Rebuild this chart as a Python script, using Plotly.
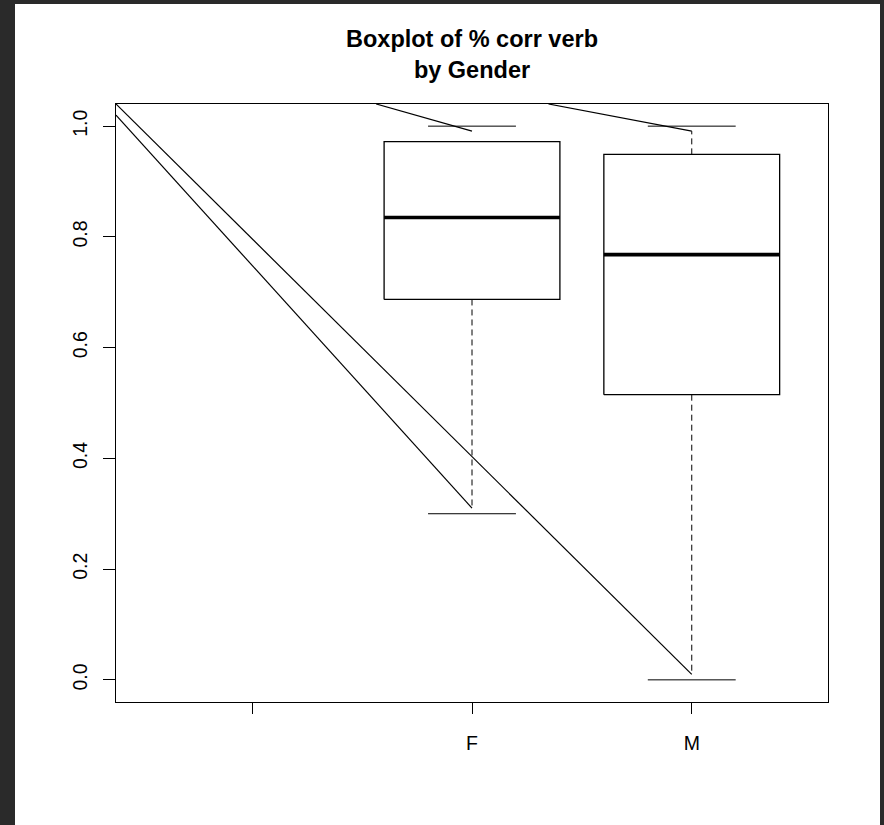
import plotly.graph_objects as go

# ---- data -------------------------------------------------------------
groups = ["", "F", "M"]            # category labels on the x axis
group_pos = [1, 2, 3]              # x positions of the categories
box_pos = [2, 3]                   # groups that have a box (F, M)
q1 = [0.687, 0.515]
median = [0.835, 0.768]
q3 = [0.972, 0.949]
whisk_lo = [0.31, 0.01]
whisk_hi = [0.972, 0.991]
cap_lo = [0.30, 0.00]
cap_hi = [1.00, 1.00]
y_ticks = [0.0, 0.2, 0.4, 0.6, 0.8, 1.0]

# stray segments running in from the empty group
stray_x0 = [0.38, 0.38, 1.564, 2.348]
stray_y0 = [1.04, 1.02, 1.04, 1.04]
stray_x1 = [3, 2, 2, 3]
stray_y1 = [0.01, 0.31, 0.991, 0.991]

# ---- geometry helpers -------------------------------------------------
BOX_HALF = 0.4
CAP_HALF = 0.2

box_x, box_y = [], []
med_x, med_y = [], []
wh_x, wh_y = [], []
cap_x, cap_y = [], []
for p, a, m, b, lo, hi, clo, chi in zip(box_pos, q1, median, q3,
                                         whisk_lo, whisk_hi, cap_lo, cap_hi):
    box_x += [p - BOX_HALF, p + BOX_HALF, p + BOX_HALF, p - BOX_HALF, p - BOX_HALF, None]
    box_y += [a, a, b, b, a, None]
    med_x += [p - BOX_HALF, p + BOX_HALF, None]
    med_y += [m, m, None]
    wh_x += [p, p, None, p, p, None]
    wh_y += [a, lo, None, b, hi, None]
    cap_x += [p - CAP_HALF, p + CAP_HALF, None, p - CAP_HALF, p + CAP_HALF, None]
    cap_y += [clo, clo, None, chi, chi, None]

st_x, st_y = [], []
for x0, y0, x1, y1 in zip(stray_x0, stray_y0, stray_x1, stray_y1):
    st_x += [x0, x1, None]
    st_y += [y0, y1, None]

fig = go.Figure()
fig.add_trace(go.Scatter(x=wh_x, y=wh_y, mode="lines",
                         line=dict(color="black", width=1, dash="6px,4px")))
fig.add_trace(go.Scatter(x=cap_x, y=cap_y, mode="lines",
                         line=dict(color="black", width=1)))
fig.add_trace(go.Scatter(x=box_x, y=box_y, mode="lines",
                         line=dict(color="black", width=1.3)))
fig.add_trace(go.Scatter(x=med_x, y=med_y, mode="lines",
                         line=dict(color="black", width=3.6)))
fig.add_trace(go.Scatter(x=st_x, y=st_y, mode="lines",
                         line=dict(color="black", width=1.2)))

# ---- page layout ------------------------------------------------------
W, H = 884, 825
ML, MR, MT, MB = 116, 56, 104, 123
pw, ph = W - ML - MR, H - MT - MB


def px_to_paper_x(px):
    return (px - ML) / pw


def px_to_paper_y(py):
    return (H - MB - py) / ph


FONT = "Liberation Sans, Arial, Helvetica, sans-serif"

fig.update_layout(
    width=W, height=H,
    margin=dict(l=ML, r=MR, t=MT, b=MB, pad=0),
    paper_bgcolor="#2a2a2a",
    plot_bgcolor="white",
    showlegend=False,
    font=dict(family=FONT, color="black"),
    title=dict(
        text="<b>Boxplot of % corr verb<br>by Gender</b>",
        x=0.5, xref="paper", xanchor="center",
        y=1 - 47 / H, yref="container", yanchor="top",
        font=dict(family=FONT, size=23.5, color="black"),
    ),
    shapes=[dict(
        type="rect", xref="paper", yref="paper", layer="below",
        x0=px_to_paper_x(15), x1=px_to_paper_x(880),
        y0=px_to_paper_y(H), y1=px_to_paper_y(4),
        fillcolor="white", line=dict(width=0),
    )],
)

fig.update_xaxes(
    range=[0.38, 3.62], tickvals=group_pos, ticktext=groups,
    ticks="outside", ticklen=11, tickwidth=1, tickcolor="black",
    showline=True, mirror=True, linecolor="black", linewidth=1,
    showgrid=False, zeroline=False,
    tickfont=dict(family=FONT, size=19.5, color="black"),
    ticklabelstandoff=13,
)
fig.update_yaxes(
    range=[-0.04, 1.04], tickvals=y_ticks, tickformat=".1f",
    tickangle=-90,
    ticks="outside", ticklen=12, tickwidth=1, tickcolor="black",
    showline=True, mirror=True, linecolor="black", linewidth=1,
    showgrid=False, zeroline=False,
    tickfont=dict(family=FONT, size=19.5, color="black"),
    ticklabelstandoff=8,
)

fig.write_html("out.html")
